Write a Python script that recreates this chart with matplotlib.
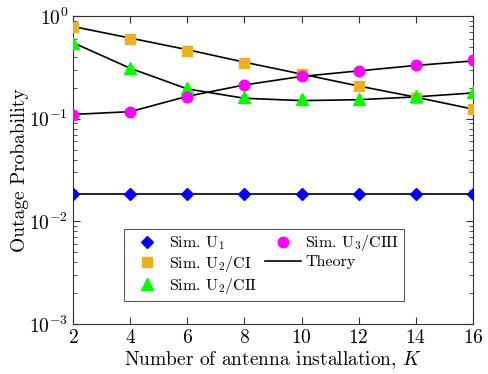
import numpy as np
import matplotlib
matplotlib.use("Agg")
import matplotlib.pyplot as plt
from matplotlib.ticker import LogLocator, NullFormatter

plt.rcParams["font.family"] = ["cmr10", "DejaVu Serif"]
plt.rcParams["mathtext.fontset"] = "cm"
plt.rcParams["axes.formatter.use_mathtext"] = True

K = [2, 4, 6, 8, 10, 12, 14, 16]

# Simulated outage probabilities
sim_u1 = [0.0185, 0.0185, 0.0185, 0.0185, 0.0185, 0.0185, 0.0185, 0.0185]
sim_u2_ci = [0.78, 0.60, 0.46, 0.35, 0.27, 0.21, 0.16, 0.124]
sim_u2_cii = [0.55, 0.31, 0.20, 0.162, 0.155, 0.157, 0.165, 0.18]
sim_u3_ciii = [0.109, 0.116, 0.163, 0.213, 0.26, 0.29, 0.33, 0.37]

# Analytical curves
th_u1 = [0.0185, 0.0185, 0.0185, 0.0185, 0.0185, 0.0185, 0.0185, 0.0185]
th_u2_ci = [0.79, 0.61, 0.47, 0.355, 0.272, 0.208, 0.162, 0.124]
th_u2_cii = [0.55, 0.31, 0.195, 0.158, 0.150, 0.153, 0.163, 0.178]
th_u3_ciii = [0.110, 0.117, 0.165, 0.213, 0.258, 0.292, 0.33, 0.365]

fig = plt.figure(figsize=(4.88, 3.74), dpi=100)
ax = fig.add_axes([0.1496, 0.1337, 0.8194, 0.8235])

for th in (th_u1, th_u2_ci, th_u2_cii, th_u3_ciii):
    ax.plot(K, th, color="black", lw=1.2, zorder=2)

styles = [("D", 6.3, "#0000ff"), ("s", 6.8, "#edb120"),
          ("^", 8.0, "#00ff00"), ("o", 7.6, "#ff00ff")]
handles = []
for data, (m, ms, c) in zip((sim_u1, sim_u2_ci, sim_u2_cii, sim_u3_ciii), styles):
    ax.plot(K, data, ls="none", marker=m, ms=ms, color=c, zorder=3)
    h, = ax.plot([], [], ls="none", marker=m, ms=ms, color=c)
    handles.append(h)
h5, = ax.plot([], [], color="black", lw=1.2)
handles.append(h5)

leg = ax.legend(handles,
                [r"Sim. $\mathrm{U}_1$", r"Sim. $\mathrm{U}_2/\mathrm{CI}$",
                 r"Sim. $\mathrm{U}_2/\mathrm{CII}$", r"Sim. $\mathrm{U}_3/\mathrm{CIII}$",
                 "Theory"],
                ncol=2, loc="upper left", bbox_to_anchor=(0.127, 0.31),
                fontsize=11.5, frameon=True, fancybox=False, edgecolor="#333333",
                handlelength=2.3, handletextpad=0.25, columnspacing=0.45,
                labelspacing=0.12, borderpad=0.3, borderaxespad=0)
leg.get_frame().set_linewidth(0.8)

ax.set_yscale("log")
ax.set_xlim(2, 16)
ax.set_ylim(1e-3, 1)
ax.set_xticks(K)
ax.yaxis.set_major_locator(LogLocator(base=10, numticks=10))
ax.yaxis.set_minor_locator(LogLocator(base=10, subs=np.arange(2, 10), numticks=10))
ax.yaxis.set_minor_formatter(NullFormatter())
ax.tick_params(which="both", direction="in", top=True, right=True, labelsize=14,
               color="#333333")
ax.tick_params(which="major", length=5)
ax.tick_params(which="minor", length=3)
for s in ax.spines.values():
    s.set_linewidth(0.8)
    s.set_color("#333333")

ax.set_xlabel(r"Number of antenna installation, $K$", fontsize=14, labelpad=2)
ax.set_ylabel("Outage Probability", fontsize=14, labelpad=0)

fig.savefig("out.png", dpi=100)
